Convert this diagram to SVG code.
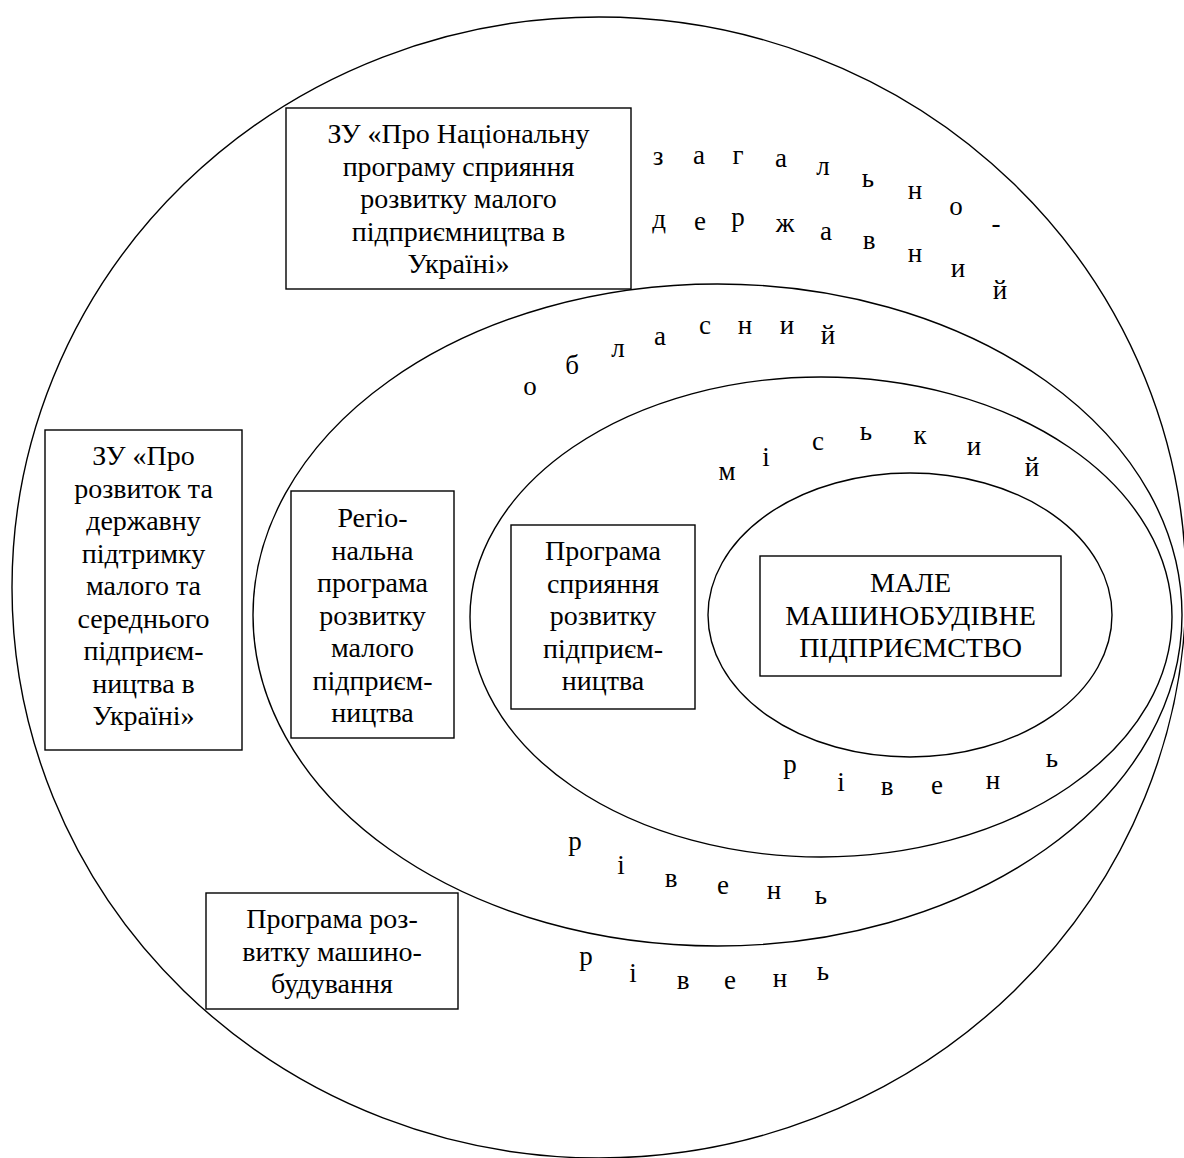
<svg xmlns="http://www.w3.org/2000/svg" width="1184" height="1158" viewBox="0 0 1184 1158">
<style>
.ring{fill:none;stroke:#000;stroke-width:1.4}
.box{fill:#fff;stroke:#000;stroke-width:1.4}
.t{font-family:"Liberation Serif","Times New Roman",serif;font-size:28px;fill:#000;text-anchor:middle}
.l{font-family:"Liberation Serif","Times New Roman",serif;font-size:27px;fill:#000;text-anchor:middle}
</style>
<rect x="0" y="0" width="1184" height="1158" fill="#fff"/>
<g id="levels">
<ellipse id="level-national" class="ring" cx="599" cy="587.5" rx="587" ry="570.5"/>
<ellipse id="level-regional" class="ring" cx="717.5" cy="615" rx="464.5" ry="331"/>
<ellipse id="level-city" class="ring" cx="821" cy="617" rx="351" ry="240"/>
<ellipse id="level-enterprise" class="ring" cx="910" cy="615" rx="202" ry="142"/>
</g>
<g id="node-national-law">
<rect class="box" x="286" y="108" width="345" height="181"/>
<text class="t" x="458.5" y="143">ЗУ «Про Національну</text>
<text class="t" x="458.5" y="175.5">програму сприяння</text>
<text class="t" x="458.5" y="208">розвитку малого</text>
<text class="t" x="458.5" y="240.5">підприємництва в</text>
<text class="t" x="458.5" y="273">Україні»</text>
</g>
<g id="node-sme-law">
<rect class="box" x="45" y="430" width="197" height="320"/>
<text class="t" x="143.5" y="465">ЗУ «Про</text>
<text class="t" x="143.5" y="497.5">розвиток та</text>
<text class="t" x="143.5" y="530">державну</text>
<text class="t" x="143.5" y="562.5">підтримку</text>
<text class="t" x="143.5" y="595">малого та</text>
<text class="t" x="143.5" y="627.5">середнього</text>
<text class="t" x="143.5" y="660">підприєм-</text>
<text class="t" x="143.5" y="692.5">ництва в</text>
<text class="t" x="143.5" y="725">Україні»</text>
</g>
<g id="node-regional-program">
<rect class="box" x="291" y="491" width="163" height="247"/>
<text class="t" x="372.5" y="527">Регіо-</text>
<text class="t" x="372.5" y="559.5">нальна</text>
<text class="t" x="372.5" y="592">програма</text>
<text class="t" x="372.5" y="624.5">розвитку</text>
<text class="t" x="372.5" y="657">малого</text>
<text class="t" x="372.5" y="689.5">підприєм-</text>
<text class="t" x="372.5" y="722">ництва</text>
</g>
<g id="node-city-program">
<rect class="box" x="511" y="525" width="184" height="184"/>
<text class="t" x="603" y="560">Програма</text>
<text class="t" x="603" y="592.5">сприяння</text>
<text class="t" x="603" y="625">розвитку</text>
<text class="t" x="603" y="657.5">підприєм-</text>
<text class="t" x="603" y="690">ництва</text>
</g>
<g id="node-enterprise">
<rect class="box" x="760" y="556" width="301" height="120"/>
<text class="t" x="910.5" y="592">МАЛЕ</text>
<text class="t" x="910.5" y="624.5">МАШИНОБУДІВНЕ</text>
<text class="t" x="910.5" y="657">ПІДПРИЄМСТВО</text>
</g>
<g id="node-machinery-program">
<rect class="box" x="206" y="893" width="252" height="116"/>
<text class="t" x="332" y="928">Програма роз-</text>
<text class="t" x="332" y="960.5">витку машино-</text>
<text class="t" x="332" y="993">будування</text>
</g>
<g id="label-national">
<text class="l" x="658" y="165">з</text>
<text class="l" x="699" y="164">а</text>
<text class="l" x="738" y="164">г</text>
<text class="l" x="781" y="167">а</text>
<text class="l" x="823" y="175">л</text>
<text class="l" x="868" y="187">ь</text>
<text class="l" x="915" y="199">н</text>
<text class="l" x="956" y="215">о</text>
<text class="l" x="996" y="232">-</text>
<text class="l" x="659" y="228">д</text>
<text class="l" x="700" y="230">е</text>
<text class="l" x="738" y="226">р</text>
<text class="l" x="785" y="232">ж</text>
<text class="l" x="826" y="240">а</text>
<text class="l" x="869" y="249">в</text>
<text class="l" x="915" y="262">н</text>
<text class="l" x="958" y="277">и</text>
<text class="l" x="1000" y="299">й</text>
</g>
<g id="label-regional">
<text class="l" x="530" y="395">о</text>
<text class="l" x="572" y="374">б</text>
<text class="l" x="618" y="357">л</text>
<text class="l" x="660" y="345">а</text>
<text class="l" x="705" y="334">с</text>
<text class="l" x="745" y="334">н</text>
<text class="l" x="787" y="334">и</text>
<text class="l" x="828" y="344">й</text>
</g>
<g id="label-city">
<text class="l" x="727" y="480">м</text>
<text class="l" x="766" y="466">і</text>
<text class="l" x="818" y="450">с</text>
<text class="l" x="866" y="440">ь</text>
<text class="l" x="920" y="444">к</text>
<text class="l" x="974" y="455">и</text>
<text class="l" x="1032" y="476">й</text>
</g>
<g id="label-level-inner">
<text class="l" x="790" y="773">р</text>
<text class="l" x="841" y="791">і</text>
<text class="l" x="887" y="795">в</text>
<text class="l" x="937" y="794">е</text>
<text class="l" x="993" y="789">н</text>
<text class="l" x="1052" y="767">ь</text>
</g>
<g id="label-level-middle">
<text class="l" x="575" y="850">р</text>
<text class="l" x="621" y="874">і</text>
<text class="l" x="671" y="887">в</text>
<text class="l" x="723" y="894">е</text>
<text class="l" x="774" y="899">н</text>
<text class="l" x="821" y="904">ь</text>
</g>
<g id="label-level-outer">
<text class="l" x="586" y="965">р</text>
<text class="l" x="633" y="982">і</text>
<text class="l" x="683" y="989">в</text>
<text class="l" x="730" y="989">е</text>
<text class="l" x="780" y="987">н</text>
<text class="l" x="823" y="980">ь</text>
</g>
</svg>
